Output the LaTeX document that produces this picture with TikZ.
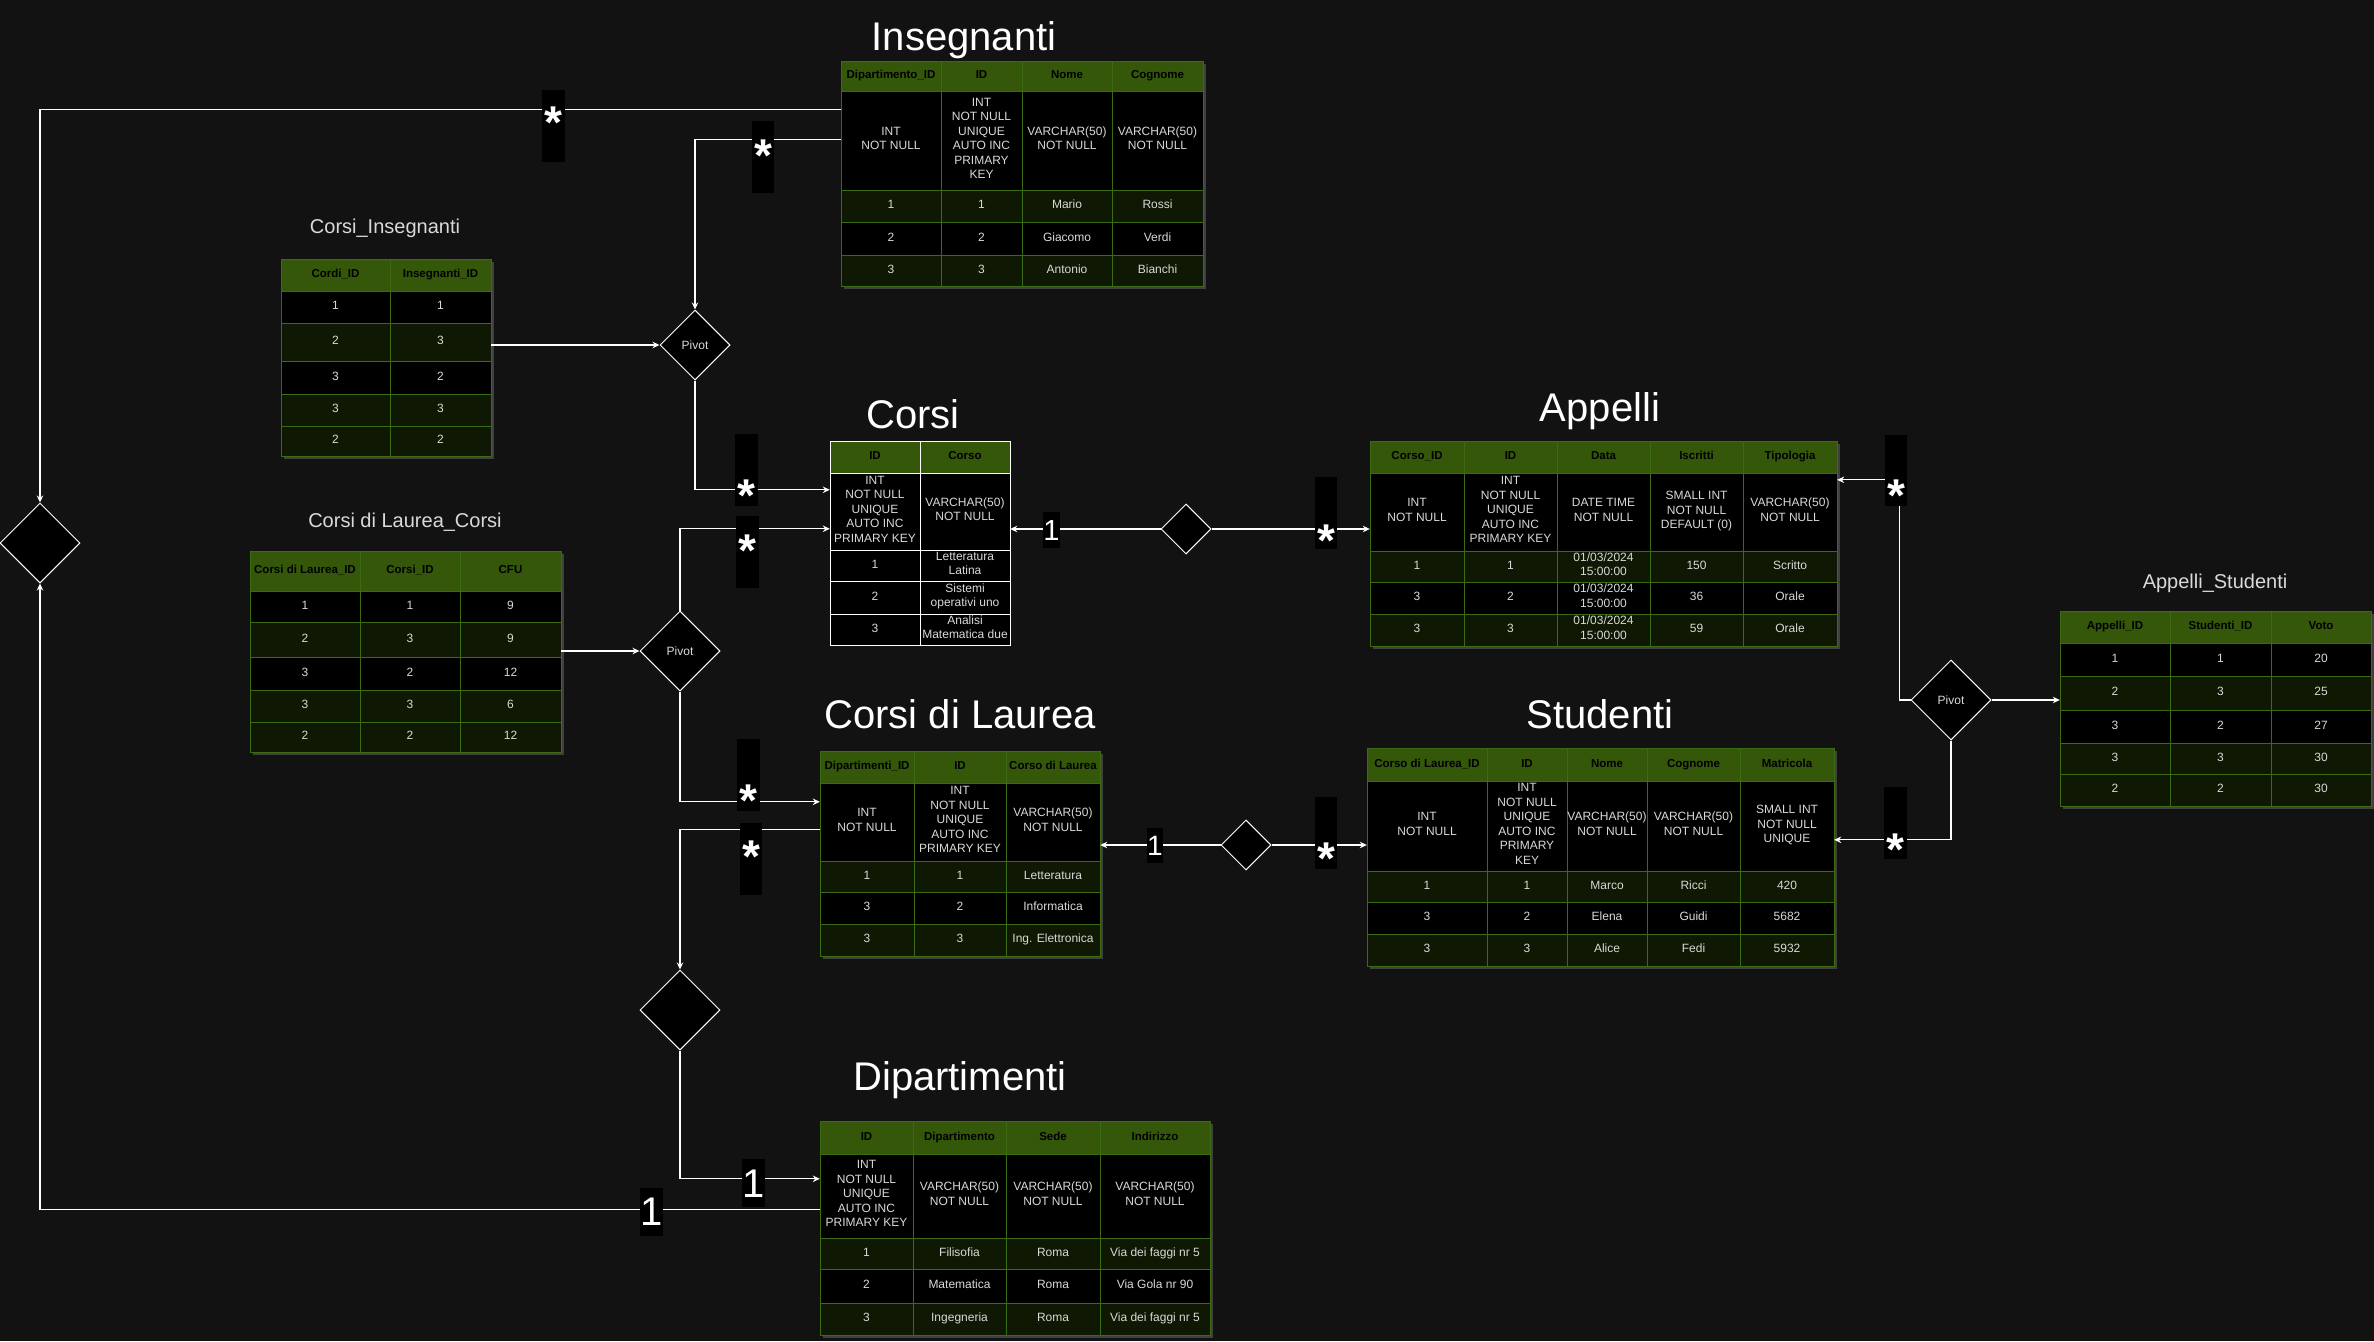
\documentclass[tikz,border=0pt]{standalone}
\usepackage{fontspec}
\setmainfont{Liberation Sans}
\usetikzlibrary{shapes.geometric,arrows.meta,fit}
\definecolor{bgc}{HTML}{121212}
\definecolor{hdrg}{HTML}{34570A}
\definecolor{dkg}{HTML}{0E1802}
\definecolor{gridg}{HTML}{3D6B14}
\definecolor{celltxt}{HTML}{D9D9D9}
\definecolor{shadowc}{HTML}{404040}
\tikzset{
  hdr-fill/.style={fill=hdrg},
  hdr-text/.style={text=black, font=\fontsize{11.5}{14}\selectfont\bfseries, align=center, inner sep=0pt,
    execute at begin node=\strut, execute at end node=\strut},
  blk-fill/.style={fill=black},
  blk-text/.style={text=celltxt, font=\fontsize{12}{14.5}\selectfont, align=center, inner sep=0pt,
    execute at begin node=\strut, execute at end node=\strut},
  dg-fill/.style={fill=dkg},
  dg-text/.style={blk-text},
  gridline/.style={draw=gridg, line width=1pt},
  whiteline/.style={draw=white, line width=1pt},
  conn/.style={draw=white, line width=1.1pt},
  arr/.style={conn, -{Stealth[length=7pt,width=6.5pt]}},
  diam/.style={shape=diamond, draw=white, fill=black, line width=1pt, inner sep=0pt,
    minimum width=#1, minimum height=#1, aspect=1, text=celltxt, font=\fontsize{12}{14}\selectfont},
  titletxt/.style={text=white, font=\fontsize{40}{48}\selectfont, anchor=base, inner sep=0pt},
  subtxt/.style={text=celltxt, font=\fontsize{20}{24}\selectfont, anchor=base, inner sep=0pt},
  startxt/.style={text=white, font=\fontsize{46}{46}\selectfont\bfseries, anchor=base, inner sep=0pt},
  onetxt/.style={text=white, anchor=base, inner sep=0pt},
}
% one table row: #1 name, #2 ytop, #3 ybottom, #4 kind, #5 grid style, #6 list xa/xb/text
\newcommand\trow[6]{%
  \foreach \xa/\xb/\tx in {#6}{%
    \path[#4-fill] (\xa,#2) rectangle (\xb,#3);
    \draw[#5] (\xa,#2) rectangle (\xb,#3);
    \node[#4-text] (#1-\xa-#2) at ({(\xa+\xb)/2},{(#2+#3)/2}) {\tx};
  }%
}
\newcommand\tshadow[4]{\fill[shadowc] ({#1+3},{#2+3}) rectangle ({#3+3},{#4+3});}
\newcommand\starlab[6]{%
  \fill[black] (#2,#3) rectangle (#4,#5);
  \node[startxt] (#1) at ({(#2+#4)/2},{#6+26}) {*};}
\newcommand\onelab[7]{%
  \fill[black] (#2,#3) rectangle (#4,#5);
  \node[onetxt, font=\fontsize{#7}{#7}\selectfont] (#1) at ({(#2+#4)/2},#6) {1};}
\begin{document}
\begin{tikzpicture}[x=1pt,y=-1pt]
\useasboundingbox (0,0) rectangle (2374,1341);
\fill[bgc] (0,0) rectangle (2374,1341);

% ---------- Insegnanti
\tshadow{841}{61}{1203}{286}
\trow{ins}{61}{91}{hdr}{gridline}{841/941/{Dipartimento\_ID},941/1022/ID,1022/1112/Nome,1112/1203/Cognome}
\trow{ins}{91}{190}{blk}{gridline}{841/941/{INT\\NOT NULL},941/1022/{INT\\NOT NULL\\UNIQUE\\AUTO INC\\PRIMARY\\KEY},1022/1112/{VARCHAR(50)\\NOT NULL},1112/1203/{VARCHAR(50)\\NOT NULL}}
\trow{ins}{190}{222}{dg}{gridline}{841/941/1,941/1022/1,1022/1112/Mario,1112/1203/Rossi}
\trow{ins}{222}{255}{blk}{gridline}{841/941/2,941/1022/2,1022/1112/Giacomo,1112/1203/Verdi}
\trow{ins}{255}{286}{dg}{gridline}{841/941/3,941/1022/3,1022/1112/Antonio,1112/1203/Bianchi}
\node[fit={(841,61) (1203,286)}, inner sep=0pt] (ins) {};
\node[titletxt] (insT) at (964,50) {Insegnanti};

% ---------- Corsi_Insegnanti
\tshadow{281}{259}{491}{456}
\trow{ci}{259}{291}{hdr}{gridline}{281/390/{Cordi\_ID},390/491/{Insegnanti\_ID}}
\trow{ci}{291}{323}{blk}{gridline}{281/390/1,390/491/1}
\trow{ci}{323}{361}{dg}{gridline}{281/390/2,390/491/3}
\trow{ci}{361}{394}{blk}{gridline}{281/390/3,390/491/2}
\trow{ci}{394}{426}{dg}{gridline}{281/390/3,390/491/3}
\trow{ci}{426}{456}{dg}{gridline}{281/390/2,390/491/2}
\node[fit={(281,259) (491,456)}, inner sep=0pt] (ci) {};
\node[subtxt] (ciT) at (385,233) {Corsi\_Insegnanti};

% ---------- Corsi di Laurea_Corsi
\tshadow{250}{551}{561}{752}
\trow{clc}{551}{591}{hdr}{gridline}{250/360/{Corsi di Laurea\_ID},360/460/{Corsi\_ID},460/561/CFU}
\trow{clc}{591}{622}{blk}{gridline}{250/360/1,360/460/1,460/561/9}
\trow{clc}{622}{657}{dg}{gridline}{250/360/2,360/460/3,460/561/9}
\trow{clc}{657}{690}{blk}{gridline}{250/360/3,360/460/2,460/561/12}
\trow{clc}{690}{722}{dg}{gridline}{250/360/3,360/460/3,460/561/6}
\trow{clc}{722}{752}{dg}{gridline}{250/360/2,360/460/2,460/561/12}
\node[fit={(250,551) (561,752)}, inner sep=0pt] (clc) {};
\node[subtxt] (clcT) at (405,527) {Corsi di Laurea\_Corsi};

% ---------- Corsi
\trow{corsi}{441}{473}{hdr}{whiteline}{830/920/ID,920/1010/Corso}
\trow{corsi}{473}{550}{blk}{whiteline}{830/920/{INT\\NOT NULL\\UNIQUE\\AUTO INC\\PRIMARY KEY},920/1010/{VARCHAR(50)\\NOT NULL}}
\trow{corsi}{550}{581}{blk}{whiteline}{830/920/1,920/1010/{Letteratura\\Latina}}
\trow{corsi}{581}{614}{blk}{whiteline}{830/920/2,920/1010/{Sistemi\\operativi uno}}
\trow{corsi}{614}{645}{blk}{whiteline}{830/920/3,920/1010/{Analisi\\Matematica due}}
\node[fit={(830,441) (1010,645)}, inner sep=0pt] (corsi) {};
\node[titletxt] (corsiT) at (913,428) {Corsi};

% ---------- Appelli
\tshadow{1370}{441}{1837}{646}
\trow{app}{441}{473}{hdr}{gridline}{1370/1464/{Corso\_ID},1464/1557/ID,1557/1650/Data,1650/1743/Iscritti,1743/1837/Tipologia}
\trow{app}{473}{551}{blk}{gridline}{1370/1464/{INT\\NOT NULL},1464/1557/{INT\\NOT NULL\\UNIQUE\\AUTO INC\\PRIMARY KEY},1557/1650/{DATE TIME\\NOT NULL},1650/1743/{SMALL INT\\NOT NULL\\DEFAULT (0)},1743/1837/{VARCHAR(50)\\NOT NULL}}
\trow{app}{551}{582}{dg}{gridline}{1370/1464/1,1464/1557/1,1557/1650/{01/03/2024\\15:00:00},1650/1743/150,1743/1837/Scritto}
\trow{app}{582}{614}{blk}{gridline}{1370/1464/3,1464/1557/2,1557/1650/{01/03/2024\\15:00:00},1650/1743/36,1743/1837/Orale}
\trow{app}{614}{646}{dg}{gridline}{1370/1464/3,1464/1557/3,1557/1650/{01/03/2024\\15:00:00},1650/1743/59,1743/1837/Orale}
\node[fit={(1370,441) (1837,646)}, inner sep=0pt] (app) {};
\node[titletxt] (appT) at (1600,421) {Appelli};

% ---------- Appelli_Studenti
\tshadow{2060}{611}{2371}{806}
\trow{apst}{611}{643}{hdr}{gridline}{2060/2170/{Appelli\_ID},2170/2271/{Studenti\_ID},2271/2371/Voto}
\trow{apst}{643}{676}{blk}{gridline}{2060/2170/1,2170/2271/1,2271/2371/20}
\trow{apst}{676}{710}{dg}{gridline}{2060/2170/2,2170/2271/3,2271/2371/25}
\trow{apst}{710}{743}{blk}{gridline}{2060/2170/3,2170/2271/2,2271/2371/27}
\trow{apst}{743}{774}{dg}{gridline}{2060/2170/3,2170/2271/3,2271/2371/30}
\trow{apst}{774}{806}{dg}{gridline}{2060/2170/2,2170/2271/2,2271/2371/30}
\node[fit={(2060,611) (2371,806)}, inner sep=0pt] (apst) {};
\node[subtxt] (apstT) at (2215,588) {Appelli\_Studenti};

% ---------- Corsi di Laurea
\tshadow{820}{751}{1100}{956}
\trow{cdl}{751}{783}{hdr}{gridline}{820/914/{Dipartimenti\_ID},914/1006/ID,1006/1100/{Corso di Laurea}}
\trow{cdl}{783}{861}{blk}{gridline}{820/914/{INT\\NOT NULL},914/1006/{INT\\NOT NULL\\UNIQUE\\AUTO INC\\PRIMARY KEY},1006/1100/{VARCHAR(50)\\NOT NULL}}
\trow{cdl}{861}{892}{dg}{gridline}{820/914/1,914/1006/1,1006/1100/Letteratura}
\trow{cdl}{892}{924}{blk}{gridline}{820/914/3,914/1006/2,1006/1100/Informatica}
\trow{cdl}{924}{956}{dg}{gridline}{820/914/3,914/1006/3,1006/1100/{Ing. Elettronica}}
\node[fit={(820,751) (1100,956)}, inner sep=0pt] (cdl) {};
\node[titletxt] (cdlT) at (960,728) {Corsi di Laurea};

% ---------- Studenti
\tshadow{1367}{748}{1834}{966}
\trow{stu}{748}{781}{hdr}{gridline}{1367/1487/{Corso di Laurea\_ID},1487/1567/ID,1567/1647/Nome,1647/1740/Cognome,1740/1834/Matricola}
\trow{stu}{781}{871}{blk}{gridline}{1367/1487/{INT\\NOT NULL},1487/1567/{INT\\NOT NULL\\UNIQUE\\AUTO INC\\PRIMARY\\KEY},1567/1647/{VARCHAR(50)\\NOT NULL},1647/1740/{VARCHAR(50)\\NOT NULL},1740/1834/{SMALL INT\\NOT NULL\\UNIQUE}}
\trow{stu}{871}{902}{dg}{gridline}{1367/1487/1,1487/1567/1,1567/1647/Marco,1647/1740/Ricci,1740/1834/420}
\trow{stu}{902}{934}{blk}{gridline}{1367/1487/3,1487/1567/2,1567/1647/Elena,1647/1740/Guidi,1740/1834/5682}
\trow{stu}{934}{966}{dg}{gridline}{1367/1487/3,1487/1567/3,1567/1647/Alice,1647/1740/Fedi,1740/1834/5932}
\node[fit={(1367,748) (1834,966)}, inner sep=0pt] (stu) {};
\node[titletxt] (stuT) at (1600,728) {Studenti};

% ---------- Dipartimenti
\tshadow{820}{1121}{1210}{1335}
\trow{dip}{1121}{1154}{hdr}{gridline}{820/913/ID,913/1006/Dipartimento,1006/1100/Sede,1100/1210/Indirizzo}
\trow{dip}{1154}{1238}{blk}{gridline}{820/913/{INT\\NOT NULL\\UNIQUE\\AUTO INC\\PRIMARY KEY},913/1006/{VARCHAR(50)\\NOT NULL},1006/1100/{VARCHAR(50)\\NOT NULL},1100/1210/{VARCHAR(50)\\NOT NULL}}
\trow{dip}{1238}{1269}{dg}{gridline}{820/913/1,913/1006/Filisofia,1006/1100/Roma,1100/1210/{Via dei faggi nr 5}}
\trow{dip}{1269}{1303}{blk}{gridline}{820/913/2,913/1006/Matematica,1006/1100/Roma,1100/1210/{Via Gola nr 90}}
\trow{dip}{1303}{1335}{dg}{gridline}{820/913/3,913/1006/Ingegneria,1006/1100/Roma,1100/1210/{Via dei faggi nr 5}}
\node[fit={(820,1121) (1210,1335)}, inner sep=0pt] (dip) {};
\node[titletxt] (dipT) at (960,1090) {Dipartimenti};

% ---------- diamonds
\node[diam=70pt] (piv1) at (695,345) {Pivot};
\node[diam=80pt] (piv2) at (680,651) {Pivot};
\node[diam=80pt] (piv3) at (1951,700) {Pivot};
\node[diam=80pt] (ldia) at (40,543) {};
\node[diam=80pt] (bdia) at (680,1010) {};
\node[diam=50pt] (d1) at (1186,529) {};
\node[diam=50pt] (d2) at (1246,845) {};

% ---------- ports
\path (ins.north west) ++(0,49) coordinate (insP1);
\path (ins.north west) ++(0,79) coordinate (insP2);
\path (corsi.north west) ++(0,49) coordinate (corsiP1);
\path (corsi.north west) ++(0,88) coordinate (corsiP2);
\path (cdl.north west) ++(0,51) coordinate (cdlP1);
\path (cdl.north west) ++(0,79) coordinate (cdlP2);
\path (dip.north west) ++(0,58) coordinate (dipP1);
\path (dip.north west) ++(0,89) coordinate (dipP2);
\path (app.north east) ++(0,39) coordinate (appP2);
\path (stu.north east) ++(0,92) coordinate (stuP2);

% ---------- connectors
\draw[arr] (insP1) -| (ldia.north);
\draw[arr] (insP2) -| (piv1.north);
\draw[arr] (ci.east |- piv1.west) -- (piv1.west);
\draw[arr] (piv1.south) |- (corsiP1);
\draw[arr] (clc.east |- piv2.west) -- (piv2.west);
\draw[arr] (piv2.north) |- (corsiP2);
\draw[arr] (piv2.south) |- (cdlP1);
\draw[arr] (cdlP2) -| (bdia.north);
\draw[arr] (bdia.south) |- (dipP1);
\draw[arr] (dipP2) -| (ldia.south);
\draw[arr] (d1.west) -- (corsi.east |- d1.west);
\draw[arr] (d1.east) -- (app.west |- d1.east);
\draw[arr] (d2.west) -- (cdl.east |- d2.west);
\draw[arr] (d2.east) -- (stu.west |- d2.east);
\draw[arr] (piv3.west) -- ++(-11,0) |- (appP2);
\draw[arr] (piv3.east) -- (apst.west |- piv3.east);
\draw[arr] (piv3.south) |- (stuP2);

% ---------- multiplicity labels
\starlab{s1}{542}{90}{565}{162}{112}
\starlab{s2}{752}{121}{774}{193}{145}
\starlab{s3}{735}{434}{758}{506}{485}
\starlab{s4}{736}{516}{759}{588}{540}
\starlab{s5}{737}{739}{760}{811}{790}
\starlab{s6}{740}{823}{762}{895}{846}
\starlab{s7}{1315}{477}{1337}{549}{530}
\starlab{s8}{1315}{797}{1337}{869}{848}
\starlab{s9}{1885}{435}{1907}{506}{485}
\starlab{s10}{1884}{787}{1907}{859}{839}
\onelab{o1}{1043}{512}{1060}{548}{540}{29}
\onelab{o2}{1147}{828}{1163}{863}{855}{28}
\onelab{o3}{742}{1159}{765}{1207}{1197}{40}
\onelab{o4}{640}{1188}{663}{1236}{1225}{40}
\end{tikzpicture}
\end{document}
